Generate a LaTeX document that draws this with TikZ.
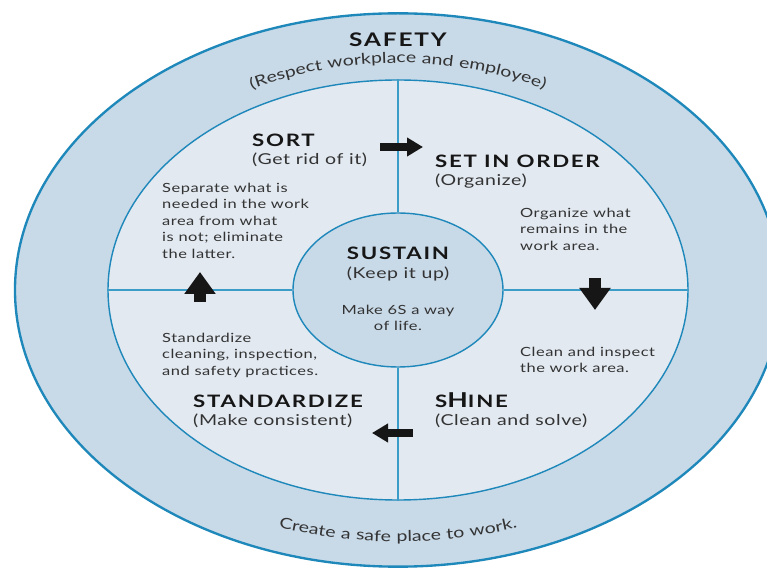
\documentclass[tikz,border=0pt]{standalone}
\usepackage{fontspec}
\setmainfont{Lato}[FakeStretch=1.3,LetterSpace=4]
\newfontfamily\capfont{Lato}[FakeStretch=1.3,LetterSpace=10]
\usetikzlibrary{arrows.meta,shapes.geometric,decorations.text}
\definecolor{ringblue}{HTML}{C8D9E8}
\definecolor{fieldblue}{HTML}{E2E9F1}
\definecolor{edgeblue}{HTML}{1E88BA}
\definecolor{ruleblue}{HTML}{3C9CC8}
\definecolor{ink}{HTML}{161616}
\definecolor{bodyink}{HTML}{333333}
\newcommand{\subsize}{\fontsize{12.8}{15}\selectfont}
\tikzset{
  oval/.style={ellipse,draw=edgeblue,inner sep=0pt,line width=1.2pt},
  divider/.style={draw=ruleblue,line width=1.1pt},
  phase/.style={font=\capfont\bfseries\fontsize{14.6}{16}\selectfont,text=ink,inner sep=0pt},
  subtitle/.style={font=\subsize,text=bodyink,inner sep=0pt},
  note/.style={font=\fontsize{10.8}{14}\selectfont,text=bodyink,align=left,inner sep=0pt},
  harrow/.style={-{Triangle[length=4.8mm,width=5.4mm]},line width=2.4mm,draw=ink},
  varrow/.style={-{Triangle[length=6.6mm,width=9mm]},line width=3.6mm,draw=ink},
  bend text/.style={decorate,decoration={text along path,text align=center,
    text color=bodyink,text={|\subsize|#1}}},
}

\begin{document}
\begin{tikzpicture}[x=1cm,y=1cm]
  \path[fill=white,use as bounding box] (-11.94,-8.34) rectangle (11.07,8.7);

  % three nested ovals
  \node[oval,fill=ringblue,line width=2pt,minimum width=22.98cm,minimum height=16.6cm] (ring) at (0,0) {};
  \node[oval,fill=fieldblue,minimum width=17.4cm,minimum height=12.6cm] (field) at (0,0) {};
  \node[oval,fill=ringblue,minimum width=6.3cm,minimum height=4.62cm] (core) at (0,0) {};
  \draw[divider] (core.north) -- (field.north);
  \draw[divider] (core.south) -- (field.south);
  \draw[divider] (core.west) -- (field.west);
  \draw[divider] (core.east) -- (field.east);

  % outer band
  \node[phase,anchor=base,font=\capfont\bfseries\fontsize{16}{18}\selectfont] (safety) at (0,7.29) {SAFETY};
  \coordinate (respectL) at (-4.6,5.95);
  \coordinate (respectR) at (4.6,5.95);
  \path[bend text={(Respect workplace and employee)}]
    (respectL) .. controls (-1.6,7.1) and (1.6,7.1) .. (respectR);
  \coordinate (createL) at (-3.7,-7.1);
  \coordinate (createR) at (3.7,-7.1);
  \path[bend text={Create a safe place to work.}]
    (createL) .. controls (-1.2,-7.7) and (1.2,-7.7) .. (createR);

  % quadrants
  \node[phase,anchor=base west] (sort) at (-4.38,4.29) {SORT};
  \node[subtitle,anchor=base west] (sortsub) at (-4.38,3.75) {(Get rid of it)};
  \node[note,anchor=north west] (sortnote) at (-7.08,3.21)
    {Separate what is\\needed in the work\\area from what\\is not; eliminate\\the latter.};

  \node[phase,anchor=base west] (order) at (1.11,3.66) {SET IN ORDER};
  \node[subtitle,anchor=base west] (ordersub) at (1.11,3.12) {(Organize)};
  \node[note,anchor=north west] (ordernote) at (3.66,2.46)
    {Organize what\\remains in the\\work area.};

  \node[note,anchor=north west] (shinenote) at (3.66,-1.71)
    {Clean and inspect\\the work area.};
  \node[phase,anchor=base west] (shine) at (1.11,-3.54) {S{\fontsize{17.5}{17}\selectfont H}INE};
  \node[subtitle,anchor=base west] (shinesub) at (1.11,-4.08) {(Clean and solve)};

  \node[note,anchor=north west] (stdnote) at (-7.08,-1.29)
    {Standardize\\cleaning, inspection,\\and safety practices.};
  \node[phase,anchor=base west] (std) at (-6.15,-3.54) {STANDARDIZE};
  \node[subtitle,anchor=base west] (stdsub) at (-6.15,-4.08) {(Make consistent)};

  % hub
  \node[phase,anchor=base] (sustain) at (0,0.9) {SUSTAIN};
  \node[subtitle,anchor=base] (sustainsub) at (0,0.33) {(Keep it up)};
  \node[note,align=center,anchor=north] (sustainnote) at (0,-0.45) {Make 6S a way\\of life.};

  % cycle arrows
  \coordinate (sortout) at (-0.54,4.29);
  \coordinate (orderin) at (0.75,4.29);
  \coordinate (orderout) at (5.91,0.36);
  \coordinate (shinein) at (5.91,-0.6);
  \coordinate (shineout) at (0.45,-4.29);
  \coordinate (stdin) at (-0.78,-4.29);
  \coordinate (stdout) at (-5.94,-0.36);
  \coordinate (sortin) at (-5.94,0.54);
  \draw[harrow] (sortout) -- (orderin);
  \draw[varrow] (orderout) -- (shinein);
  \draw[harrow] (shineout) -- (stdin);
  \draw[varrow] (stdout) -- (sortin);
\end{tikzpicture}
\end{document}
